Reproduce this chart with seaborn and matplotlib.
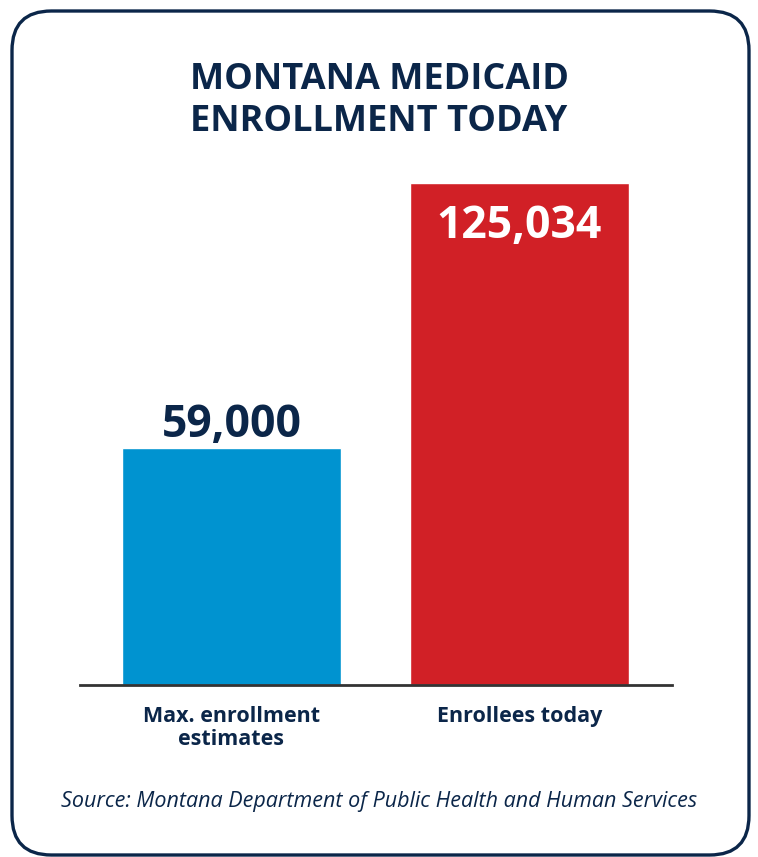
import matplotlib
matplotlib.use("Agg")
import matplotlib.pyplot as plt
from matplotlib.patches import FancyBboxPatch
import seaborn as sns

# data
categorias = ["Max. enrollment\nestimates", "Enrollees today"]
valori = [59000, 125034]
etichette = ["59,000", "125,034"]
colori = ["#0093d0", "#d12026"]

navy = "#0b2649"

sns.set_style("white")
plt.rcParams['font.family'] = ['Open Sans', 'DejaVu Sans']

fig = plt.figure(figsize=(7.58, 8.57), dpi=100)

# cornice arrotondata
W, H = 758, 857
bordo = FancyBboxPatch((12 / W, 2 / H), (749 - 12) / W, (855 - 11) / H,
                       boxstyle="round,pad=0,rounding_size=0.052",
                       transform=fig.transFigure, fill=False,
                       edgecolor=navy, linewidth=2.4, mutation_aspect=W / H)
fig.patches.append(bordo)

ax = fig.add_axes([80 / W, (857 - 685) / H, 592 / W, 502 / H])
sns.barplot(x=categorias, y=valori, hue=categorias, palette=colori,
            legend=False, width=0.76, saturation=1, ax=ax)
ax.set_xlim(-0.526, 1.53)
ax.set_ylim(0, max(valori))

for s in ["top", "right", "left"]:
    ax.spines[s].set_visible(False)
ax.spines["bottom"].set_color("#333333")
ax.spines["bottom"].set_linewidth(2)
ax.set_yticks([])
ax.tick_params(axis="x", length=0, pad=15)
for t in ax.get_xticklabels():
    t.set_fontsize(15.5)
    t.set_fontweight("bold")
    t.set_color(navy)
    t.set_linespacing(1.12)
ax.set_ylabel("")

# etichette valori
ax.annotate(etichette[0], (0, valori[0]), xytext=(0, 0), textcoords="offset points",
            ha="center", va="bottom", fontsize=32, fontweight="bold", color=navy)
ax.annotate(etichette[1], (1, valori[1]), xytext=(0, -15), textcoords="offset points",
            ha="center", va="top", fontsize=32, fontweight="bold", color="white")

fig.text(0.5, 1 - 101 / H, "MONTANA MEDICAID\nENROLLMENT TODAY", ha="center",
         va="center", fontsize=26, fontweight="bold", color=navy, linespacing=1.2)
fig.text(0.5, 1 - 802 / H, "Source: Montana Department of Public Health and Human Services",
         ha="center", va="center", fontsize=15.5, style="italic", color=navy)

fig.savefig("out.png", dpi=100)
